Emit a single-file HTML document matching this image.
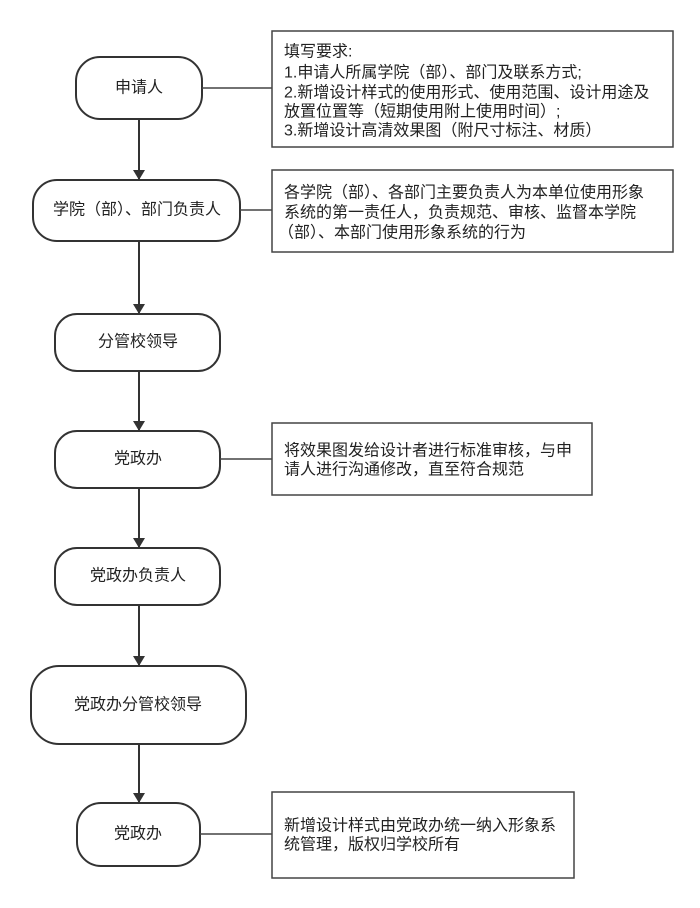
<!DOCTYPE html>
<html><head><meta charset="utf-8"><style>
html,body{margin:0;padding:0;background:#fff;}
svg{display:block;}
text{font-family:"Liberation Sans","Noto Sans CJK SC",sans-serif;font-size:16px;fill:#222;}
</style></head><body>
<svg width="700" height="908" viewBox="0 0 700 908" xmlns="http://www.w3.org/2000/svg">
<defs><marker id="a" markerWidth="10" markerHeight="12" refX="9" refY="6" orient="auto" markerUnits="userSpaceOnUse"><path d="M0,0 L10,6 L0,12 z" fill="#333"/></marker></defs>
<g fill="#fff" stroke="#333" stroke-width="2">
<rect x="76" y="57" width="126" height="62" rx="24"/>
<rect x="33" y="180" width="207" height="61" rx="24"/>
<rect x="55" y="314" width="165" height="57" rx="22"/>
<rect x="55" y="431" width="165" height="57" rx="22"/>
<rect x="55" y="548" width="165" height="57" rx="22"/>
<rect x="31" y="666" width="215" height="78" rx="28"/>
<rect x="77" y="803" width="123" height="63" rx="24"/>
</g>
<g fill="#fff" stroke="#444" stroke-width="1.5">
<rect x="272" y="31" width="401" height="116"/>
<rect x="272" y="170" width="401" height="82"/>
<rect x="272" y="423" width="320" height="72"/>
<rect x="272" y="792" width="302" height="86"/>
</g>
<g stroke="#333" stroke-width="2" fill="none">
<line x1="139" y1="119" x2="139" y2="179" marker-end="url(#a)"/>
<line x1="139" y1="241" x2="139" y2="313" marker-end="url(#a)"/>
<line x1="139" y1="371" x2="139" y2="430" marker-end="url(#a)"/>
<line x1="139" y1="488" x2="139" y2="547" marker-end="url(#a)"/>
<line x1="139" y1="605" x2="139" y2="665" marker-end="url(#a)"/>
<line x1="139" y1="744" x2="139" y2="802" marker-end="url(#a)"/>
</g>
<g stroke="#444" stroke-width="1.5">
<line x1="202" y1="88" x2="272" y2="88"/>
<line x1="240" y1="210" x2="272" y2="210"/>
<line x1="220" y1="459" x2="272" y2="459"/>
<line x1="200" y1="834" x2="272" y2="834"/>
</g>
<g text-anchor="middle" dominant-baseline="central">
<text x="139" y="88">申请人</text>
<text x="137" y="210">学院（部）、部门负责人</text>
<text x="138" y="342">分管校领导</text>
<text x="138" y="459">党政办</text>
<text x="138" y="576">党政办负责人</text>
<text x="138" y="705">党政办分管校领导</text>
<text x="138" y="834">党政办</text>
</g>
<g dominant-baseline="central">
<text x="284" y="52">填写要求:</text>
<text x="284" y="73">1.申请人所属学院（部）、部门及联系方式;</text>
<text x="284" y="93">2.新增设计样式的使用形式、使用范围、设计用途及</text>
<text x="284" y="112">放置位置等（短期使用附上使用时间）;</text>
<text x="284" y="131">3.新增设计高清效果图（附尺寸标注、材质）</text>
<text x="284" y="193">各学院（部）、各部门主要负责人为本单位使用形象</text>
<text x="284" y="213">系统的第一责任人，负责规范、审核、监督本学院</text>
<text x="278" y="233">（部）、本部门使用形象系统的行为</text>
<text x="284" y="451">将效果图发给设计者进行标准审核，与申</text>
<text x="284" y="470">请人进行沟通修改，直至符合规范</text>
<text x="284" y="826">新增设计样式由党政办统一纳入形象系</text>
<text x="284" y="845">统管理，版权归学校所有</text>
</g>
</svg>
</body></html>
